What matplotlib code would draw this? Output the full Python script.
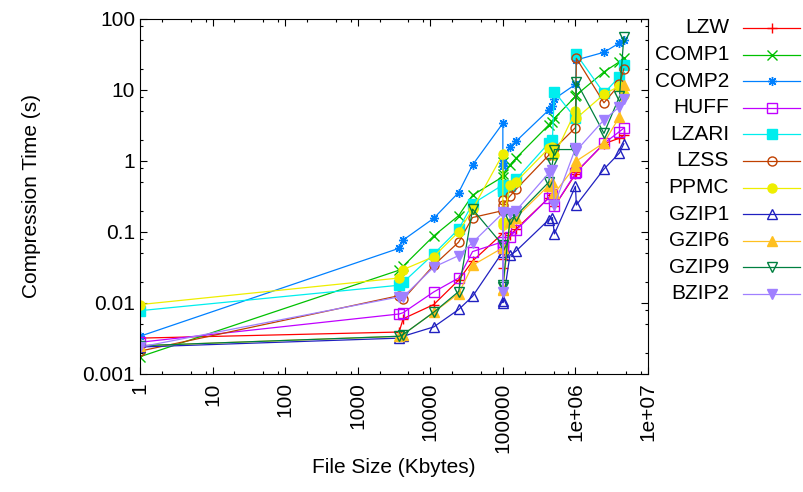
import numpy as np
import matplotlib; matplotlib.use('Agg')
import matplotlib.pyplot as plt
from matplotlib.lines import Line2D
from matplotlib.ticker import LogLocator, FixedLocator, NullFormatter

plt.rcParams['font.family'] = ['Liberation Sans', 'DejaVu Sans']

# --- Donnees (taille fichier, temps de compression) ---
file_size = [1, 3721, 4227, 11150, 24603, 38240, 100000, 100000, 100000, 125179,
             152089, 426754, 481861, 513216, 1000000, 1029744, 2473400, 4047392, 4638690]

names = ['LZW', 'COMP1', 'COMP2', 'HUFF', 'LZARI', 'LZSS', 'PPMC',
         'GZIP1', 'GZIP6', 'GZIP9', 'BZIP2']

lzw   = [0.0032, 0.0039, 0.0060, 0.0095, 0.021, 0.039, 0.096, 0.031, 0.041, 0.09,
         0.11, 0.30, 0.33, 0.23, 0.65, 0.7, 1.75, 2.1, 2.3]
comp1 = [0.00175, 0.029, 0.033, 0.088, 0.17, 0.33, 0.6, 0.98, 0.65, 0.88,
         1.1, 3.2, 3.6, 4.0, 8.1, 8.5, 18, 25, 28]
comp2 = [0.0034, 0.059, 0.077, 0.156, 0.36, 0.88, 3.4, 0.95, 0.85, 1.6,
         1.9, 5.2, 6.0, 7.5, 12, 26.5, 34, 46, 50]
huff  = [0.0028, 0.0070, 0.0073, 0.0143, 0.0225, 0.053, 0.073, 0.063, 0.06, 0.086,
         0.106, 0.30, 0.34, 0.23, 0.67, 0.7, 1.77, 2.6, 2.9]
lzari = [0.0078, 0.0178, 0.0195, 0.049, 0.11, 0.25, 0.46, 0.38, 0.42, 0.45,
         0.55, 1.78, 2.0, 9.5, 4.0, 31.8, 9.0, 15.4, 22.5]
lzss  = [0.0021, 0.0127, 0.0113, 0.034, 0.072, 0.16, 0.2, 0.28, 0.24, 0.32,
         0.40, 1.2, 1.4, 1.5, 2.95, 28, 6.6, 12, 19.8]
ppmc  = [0.0095, 0.0225, 0.0295, 0.045, 0.10, 0.21, 1.25, 0.14, 0.125, 0.46,
         0.51, 1.5, 1.6, 1.2, 5.0, 4.0, 8.7, 11.4, 8.5]
gzip1 = [0.0024, 0.0032, 0.0034, 0.0046, 0.0081, 0.0124, 0.053, 0.0105, 0.0101, 0.047,
         0.054, 0.148, 0.16, 0.094, 0.44, 0.24, 0.77, 1.3, 1.75]
gzip6 = [0.0025, 0.0034, 0.0036, 0.0074, 0.0136, 0.034, 0.06, 0.016, 0.015, 0.14,
         0.16, 0.45, 0.5, 0.35, 0.85, 1.0, 1.8, 4.2, 11.8]
gzip9 = [0.0025, 0.0034, 0.0036, 0.0074, 0.0145, 0.21, 0.065, 0.018, 0.017, 0.15,
         0.17, 0.5, 0.93, 1.45, 1.45, 13.1, 2.45, 8.1, 56]
bzip2 = [0.0024, 0.0122, 0.0122, 0.032, 0.0465, 0.071, 0.185, 0.0145, 0.19, 0.185,
         0.20, 0.67, 0.75, 0.24, 1.5, 1.4, 3.8, 5.8, 7.5]

series = [lzw, comp1, comp2, huff, lzari, lzss, ppmc, gzip1, gzip6, gzip9, bzip2]

# couleurs / symboles style gnuplot
colors = ['#ff0000', '#00c000', '#0080ff', '#c000ff', '#00eeee', '#c04000',
          '#eeee00', '#2020c0', '#ffc020', '#008040', '#a080ff']
markers = ['+', 'x', (8, 2, 0), 's', 's', 'o', 'o', '^', '^', 'v', 'v']
filled = [True, True, True, False, True, False, True, False, True, False, True]

W, H = 804, 492
fig = plt.figure(figsize=(W/100, H/100), dpi=100)
ax = fig.add_axes([140/W, 1-374/H, (648-140)/W, (374-19)/H])

for y, c, m, f in zip(series, colors, markers, filled):
    ax.plot(file_size, y, color=c, lw=0.9, marker=m, ms=6.5,
            mfc=c if f else 'none', mec=c, mew=1.0)

ax.set_xscale('log')
ax.set_yscale('log')
ax.set_xlim(1, 1e7)
ax.set_ylim(0.001, 100)

xt = [1, 10, 100, 1000, 10000, 100000, 1e6, 1e7]
ax.xaxis.set_major_locator(FixedLocator(xt))
ax.set_xticklabels(['1', '10', '100', '1000', '10000', '100000', '1e+06', '1e+07'],
                   rotation=90)
yt = [0.001, 0.01, 0.1, 1, 10, 100]
ax.yaxis.set_major_locator(FixedLocator(yt))
ax.set_yticklabels(['0.001', '0.01', '0.1', '1', '10', '100'])
ax.xaxis.set_minor_locator(LogLocator(base=10, subs=(2, 5, 8)))
ax.yaxis.set_minor_locator(LogLocator(base=10, subs=(2, 5, 8)))
ax.xaxis.set_minor_formatter(NullFormatter())
ax.yaxis.set_minor_formatter(NullFormatter())
ax.tick_params(which='both', direction='in', top=True, right=True, labelsize=15)
ax.tick_params(which='major', length=5, width=0.8)
ax.tick_params(which='minor', length=2.5, width=0.8)
ax.tick_params(axis='x', pad=6)

ax.set_xlabel('File Size (Kbytes)', fontsize=15, labelpad=4)
ax.set_ylabel('Compression Time (s)', fontsize=15)
ax.yaxis.set_label_coords((41-140)/(648-140), 0.5)

# legende a la gnuplot (texte aligne a droite, echantillon a droite)
for i, (n, c, m, f) in enumerate(zip(names, colors, markers, filled)):
    yy = 1 - (27.9 + 26.6*i)/H
    fig.text(729/W, yy, n, ha='right', va='center', fontsize=15)
    fig.add_artist(Line2D([743/W, 772/W, 800/W], [yy, yy, yy], transform=fig.transFigure,
                          color=c, lw=0.9, marker=m, ms=6.5, markevery=[1],
                          mfc=c if f else 'none', mec=c, mew=1.0))

fig.savefig('out.png', dpi=100)
